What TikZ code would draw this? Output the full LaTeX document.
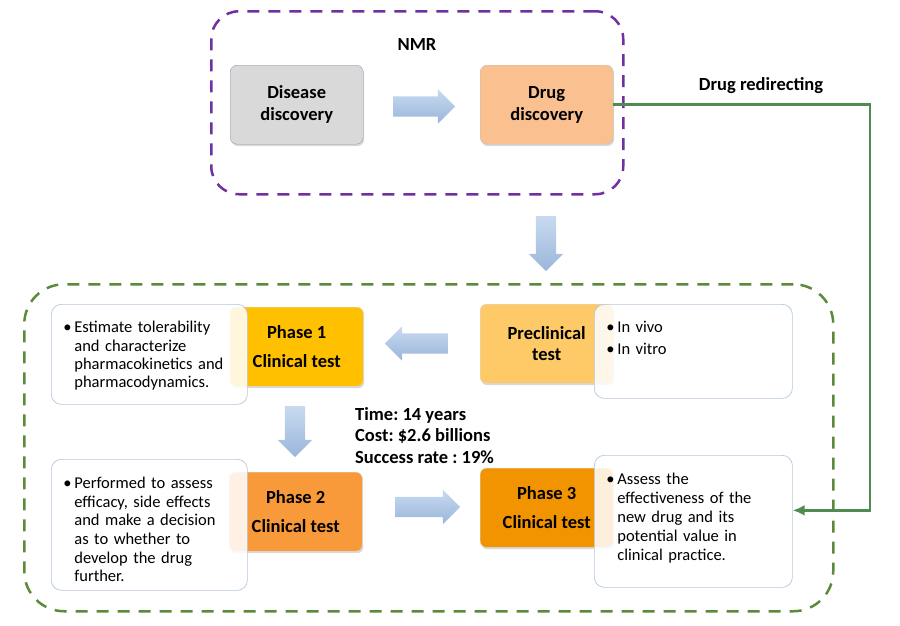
\documentclass[tikz,border=0pt]{standalone}
\usepackage{fontspec}
\setmainfont{Carlito}
\usetikzlibrary{arrows.meta}
\usetikzlibrary{shapes.arrows}
\usetikzlibrary{shadows}
\frenchspacing
\definecolor{nmrpurple}{HTML}{7030A0}
\definecolor{trialgreen}{HTML}{5A8A3A}
\definecolor{redirgreen}{HTML}{4F8C4F}
\definecolor{diseasegray}{HTML}{D9D9D9}
\definecolor{diseaseborder}{HTML}{8EA0B8}
\definecolor{drugpeach}{HTML}{FAC090}
\definecolor{preorange}{HTML}{FECA68}
\definecolor{phaseone}{HTML}{FFC000}
\definecolor{phasetwo}{HTML}{F8993A}
\definecolor{phasethree}{HTML}{F29400}
\definecolor{noteborder}{HTML}{B4C7DC}
\definecolor{arrowtop}{HTML}{C8DAF0}
\definecolor{arrowbot}{HTML}{9AB6DA}
\tikzset{group/.style = {line width = 2.5pt, dash pattern = on 12pt off 9pt, anchor = north west, inner sep = 0}}
\tikzset{title/.style = {font = \bfseries\fontsize{18.5}{21.7}\selectfont, inner sep = 0}}
\tikzset{stage/.style = {draw = black!25, rounded corners = 7pt, anchor = north west, minimum width = 133pt, minimum height = 79pt, align = center, font = \bfseries\fontsize{18.5}{21.7}\selectfont, drop shadow = {opacity = 0.3, shadow xshift = 1pt, shadow yshift = -2pt}}}
\tikzset{phase/.style = {stage, draw = black!15, rounded corners = 6pt}}
\tikzset{note/.style = {draw = noteborder, line width = 0.7pt, fill = white, fill opacity = 0.86, text opacity = 1, rounded corners = 10pt, anchor = north west, inner xsep = 12pt, inner ysep = 0, align = left, font = \fontsize{16.5}{18.7}\selectfont}}
\tikzset{barrow/.style = {single arrow, inner sep = 10pt, single arrow head extend = 7pt, single arrow head indent = 0pt, minimum height = 62pt, top color = arrowtop, bottom color = arrowbot, draw = none}}
\tikzset{redirect/.style = {draw = redirgreen, line width = 2.6pt, -{Latex[length = 12pt, width = 11pt]}}}
\newcommand{\bul}[1]{\makebox[11pt][l]{\textbullet}\begin{tabular}[t]{@{}l@{}}#1\end{tabular}}

\begin{document}
\begin{tikzpicture}[x = 1pt, y = -1pt]

    \useasboundingbox (0, 0) rectangle (900, 625);

    \node [group, draw = nmrpurple, rounded corners = 28pt, minimum width = 412pt, minimum height = 183pt] (nmr) at (210, 10) {};
    \node [group, draw = trialgreen, rounded corners = 40pt, minimum width = 809pt, minimum height = 327pt] (trial) at (23, 283) {};

    \node [title, anchor = base] (nmrlabel) at (417, 50) {NMR};
    \node [stage, draw = diseaseborder, fill = diseasegray] (disease) at (230, 65) {Disease\\discovery};
    \node [stage, fill = drugpeach] (drug) at (480, 65) {Drug\\discovery};
    \node [barrow] (a1) at (419, 106.5) {};
    \node [barrow, shape border rotate = 270, minimum height = 55pt] (a2) at (546, 238.5) {};

    \node [phase, fill = preorange] (pre) at (480, 304) {Preclinical\\test};
    \node [note, text width = 174pt, text height = 28pt, text depth = 66pt] (prenote) at (594, 304) {\bul{In vivo}\\[3pt]\bul{In vitro}};

    \node [phase, fill = phaseone] (p1) at (230, 307) {Phase 1\\[7pt]Clinical test};
    \node [note, text width = 172pt, text height = 28.5pt, text depth = 71.5pt, font = \fontsize{16.5}{18.3}\selectfont] (p1note) at (51, 304) {\bul{Estimate tolerability\\and characterize\\pharmacokinetics and\\pharmacodynamics.}};
    \node [barrow, shape border rotate = 180, minimum height = 63pt] (a3) at (421.5, 343.5) {};
    \node [barrow, shape border rotate = 270, minimum height = 51pt] (a4) at (295, 426.5) {};

    \node [phase, fill = phasetwo] (p2) at (229, 472) {Phase 2\\[7pt]Clinical test};
    \node [note, text width = 172pt, text height = 29pt, text depth = 102pt] (p2note) at (51, 459) {\bul{Performed to assess\\efficacy, side effects\\and make a decision\\as to whether to\\develop the drug\\further.}};
    \node [barrow, minimum height = 65pt] (a5) at (422.5, 507) {};

    \node [phase, fill = phasethree] (p3) at (480, 468) {Phase 3\\[7pt]Clinical test};
    \node [note, text width = 174pt, text height = 29pt, text depth = 103pt, font = \fontsize{16.5}{19}\selectfont] (p3note) at (594, 455) {\bul{Assess the\\effectiveness of the\\new drug and its\\potential value in\\clinical practice.}};

    \node [title, anchor = west, align = left] (cost) at (355, 435.5) {Time: 14 years\\Cost: \$2.6 billions\\Success rate : 19\%};

    \node [title, anchor = base] (redirlabel) at (761, 90.7) {Drug redirecting};
    \coordinate (turn) at (870, 0);
    \draw [redirect] (drug.east) -- (drug.east -| turn) |- ([yshift = 11pt]p3note.east);

  \end{tikzpicture}
\end{document}
